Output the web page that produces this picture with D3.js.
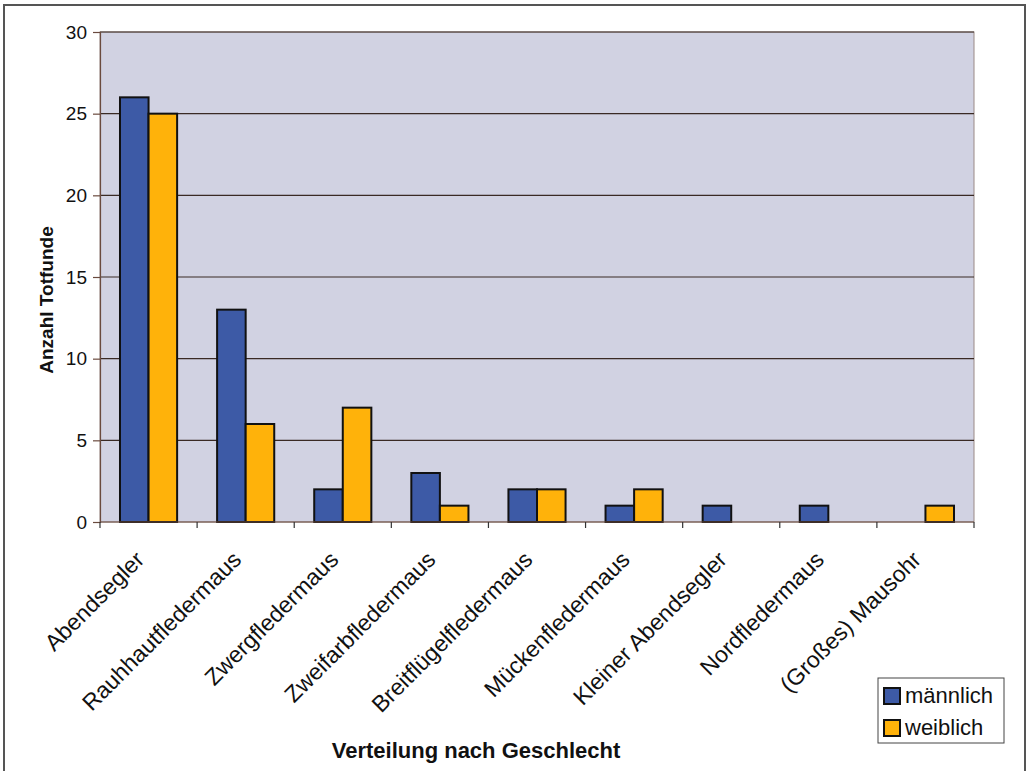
<!DOCTYPE html>
<html>
<head>
<meta charset="utf-8">
<script src="https://cdn.jsdelivr.net/npm/d3@7"></script>
<style>
  body { margin: 0; background: #fff; }
  svg { display: block; font-family: Arial, "Liberation Sans", sans-serif; }
</style>
</head>
<body>
<div id="chart"></div>
<script>
// --- data ---
const species = ["Abendsegler", "Rauhhautfledermaus", "Zwergfledermaus", "Zweifarbfledermaus",
  "Breitflügelfledermaus", "Mückenfledermaus", "Kleiner Abendsegler", "Nordfledermaus", "(Großes) Mausohr"];
const maleCounts = [26, 13, 2, 3, 2, 1, 1, 1, 0];
const femaleCounts = [25, 6, 7, 1, 2, 2, 0, 0, 1];
const seriesNames = ["männlich", "weiblich"];
const yTicks = [0, 5, 10, 15, 20, 25, 30];

const W = 1028, H = 771;
const plot = { left: 100, right: 974, top: 32, bottom: 522 };
const colors = { "männlich": "#3d5aa6", "weiblich": "#ffb20a" };

const svg = d3.select('#chart').append('svg')
    .attr('width', W).attr('height', H);

// outer frame
svg.append('rect')
    .attr('x', 4).attr('y', 5).attr('width', 1021).attr('height', 780)
    .attr('fill', '#fff').attr('stroke', '#555').attr('stroke-width', 2);

const x = d3.scaleBand().domain(species).range([plot.left, plot.right]).paddingInner(0).paddingOuter(0);
const x1 = d3.scaleBand().domain(seriesNames).range([0, x.bandwidth()]).paddingOuter(0.7).paddingInner(0);
const y = d3.scaleLinear().domain([0, 30]).range([plot.bottom, plot.top]);

// plot background
svg.append('rect')
    .attr('x', plot.left).attr('y', plot.top)
    .attr('width', plot.right - plot.left).attr('height', plot.bottom - plot.top)
    .attr('fill', '#d1d2e2').attr('stroke', '#9a8a86').attr('stroke-width', 1);

// gridlines
svg.append('g').selectAll('line')
    .data(yTicks.filter(d => d > 0))
    .join('line')
    .attr('x1', plot.left).attr('x2', plot.right)
    .attr('y1', d => y(d)).attr('y2', d => y(d))
    .attr('stroke', '#3a2a24').attr('stroke-width', 1.2);

// y axis
const yAxis = svg.append('g')
    .attr('transform', `translate(${plot.left},0)`)
    .call(d3.axisLeft(y).tickValues(yTicks).tickSize(7).tickPadding(6));
yAxis.select('.domain').attr('stroke', '#6a4a3e').attr('stroke-width', 1.2);
yAxis.selectAll('.tick line').attr('stroke', '#6a4a3e').attr('stroke-width', 1.2);
yAxis.selectAll('.tick text').attr('font-size', 19).attr('fill', '#111')
    .attr('font-family', 'Arial, "Liberation Sans", sans-serif');

// bars
const rows = species.map((s, i) => ({ species: s, values: [
  { key: "männlich", value: maleCounts[i] },
  { key: "weiblich", value: femaleCounts[i] }
]}));

const groups = svg.append('g').selectAll('g')
    .data(rows)
    .join('g')
    .attr('transform', d => `translate(${x(d.species)},0)`);

groups.selectAll('rect')
    .data(d => d.values.filter(v => v.value > 0))
    .join('rect')
    .attr('x', d => x1(d.key))
    .attr('y', d => y(d.value))
    .attr('width', x1.bandwidth())
    .attr('height', d => y(0) - y(d.value))
    .attr('fill', d => colors[d.key])
    .attr('stroke', '#111')
    .attr('stroke-width', 2);

// x axis
const xAxisG = svg.append('g')
    .attr('transform', `translate(0,${plot.bottom})`);
xAxisG.append('line')
    .attr('x1', plot.left).attr('x2', plot.right)
    .attr('stroke', '#6a4a3e').attr('stroke-width', 1.2);
xAxisG.selectAll('line.tick')
    .data(species.map(s => x(s)).concat([plot.right]))
    .join('line')
    .attr('class', 'tick')
    .attr('x1', d => d).attr('x2', d => d)
    .attr('y1', 0).attr('y2', 6)
    .attr('stroke', '#333').attr('stroke-width', 1.2);

// rotated category labels
svg.append('g').selectAll('text')
    .data(species)
    .join('text')
    .attr('transform', d => `translate(${x(d) + x.bandwidth() / 2 - 3},${plot.bottom + 39}) rotate(-45)`)
    .attr('text-anchor', 'end')
    .attr('font-size', 23)
    .attr('fill', '#111')
    .text(d => d);

// axis titles
svg.append('text')
    .attr('transform', `translate(53,300) rotate(-90)`)
    .attr('text-anchor', 'middle')
    .attr('font-size', 19).attr('font-weight', 'bold').attr('fill', '#111')
    .text('Anzahl Totfunde');

svg.append('text')
    .attr('x', 476).attr('y', 758)
    .attr('text-anchor', 'middle')
    .attr('font-size', 22).attr('font-weight', 'bold').attr('fill', '#111')
    .text('Verteilung nach Geschlecht');

// legend
const legend = svg.append('g').attr('transform', 'translate(878,678)');
legend.append('rect')
    .attr('width', 126).attr('height', 65)
    .attr('fill', '#fff').attr('stroke', '#444').attr('stroke-width', 1);
const li = legend.selectAll('g.item')
    .data(seriesNames)
    .join('g')
    .attr('class', 'item')
    .attr('transform', (d, i) => `translate(6,${18 + i * 32})`);
li.append('rect')
    .attr('x', 0).attr('y', -8).attr('width', 16).attr('height', 16)
    .attr('fill', d => colors[d]).attr('stroke', '#111').attr('stroke-width', 2);
li.append('text')
    .attr('x', 21).attr('y', 7)
    .attr('font-size', 22).attr('fill', '#111')
    .text(d => d);
</script>
</body>
</html>
